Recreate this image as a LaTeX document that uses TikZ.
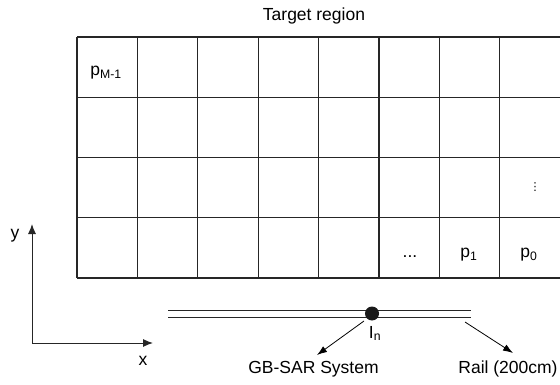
\documentclass[tikz,border=0pt]{standalone}
\usepackage{fontspec}
\setmainfont{Liberation Sans}
\newfontfamily\symfont{DejaVu Sans}
\usetikzlibrary{arrows.meta}
\begin{document}
\begin{tikzpicture}[x=1pt,y=-1pt,
  gridline/.style={line width=1.1pt,draw=black!85},
  lbl/.style={inner sep=0pt,anchor=base,font=\fontsize{17.5}{19}\selectfont},
  axis/.style={line width=1pt,draw=black!85,-{Latex[length=10pt,width=8pt]}},
  railline/.style={line width=1pt,draw=black!85},
  pointer/.style={line width=0.8pt,-{Latex[length=10pt,width=7pt]}}]
\useasboundingbox (0,0) rectangle (560,385);
% grid
\foreach \i in {0,...,8} {
  \draw[gridline] ({77+60.4*\i},37) -- ({77+60.4*\i},278);
}
\foreach \j in {0,...,4} {
  \draw[gridline] (77,{37+60.25*\j}) -- (560.5,{37+60.25*\j});
}
\node[lbl] (title) at (314,20.5) {Target region};
\node[lbl] (pm) at (106,76) {p\textsubscript{M-1}};
\node[lbl] (dots) at (410,257) {...};
\node[lbl] (p1) at (469,258) {p\textsubscript{1}};
\node[lbl] (p0) at (529,258) {p\textsubscript{0}};
\node[inner sep=0pt,font=\symfont\fontsize{11}{11}\selectfont] (vd) at (535,187.5) {⋮};
% axes
\coordinate (o) at (32,343);
\coordinate (ytip) at (32,224);
\coordinate (xtip) at (153,343);
\draw[axis] (o) -- (ytip);
\draw[axis] (o) -- (xtip);
\node[lbl] (ylab) at (15,238) {y};
\node[lbl] (xlab) at (143,365) {x};
% rail
\coordinate (ra) at (168,310.5);
\coordinate (rb) at (471,310.5);
\coordinate (rc) at (168,317);
\coordinate (rd) at (471,317);
\draw[railline] (ra) -- (rb);
\draw[railline] (rc) -- (rd);
\node[circle,fill=black!90,minimum size=14pt,inner sep=0pt] (dot) at (372,313.5) {};
\node[lbl] (In) at (375,338) {I\textsubscript{n}};
\node[lbl] (gb) at (313.5,373) {GB-SAR System};
\node[lbl] (rail) at (508,373) {Rail (200cm)};
\coordinate (gbs) at (364,321);
\coordinate (gbt) at (317,355);
\coordinate (rs) at (465,322);
\coordinate (rt) at (513,353);
\draw[pointer] (gbs) -- (gbt);
\draw[pointer] (rs) -- (rt);
\end{tikzpicture}
\end{document}
